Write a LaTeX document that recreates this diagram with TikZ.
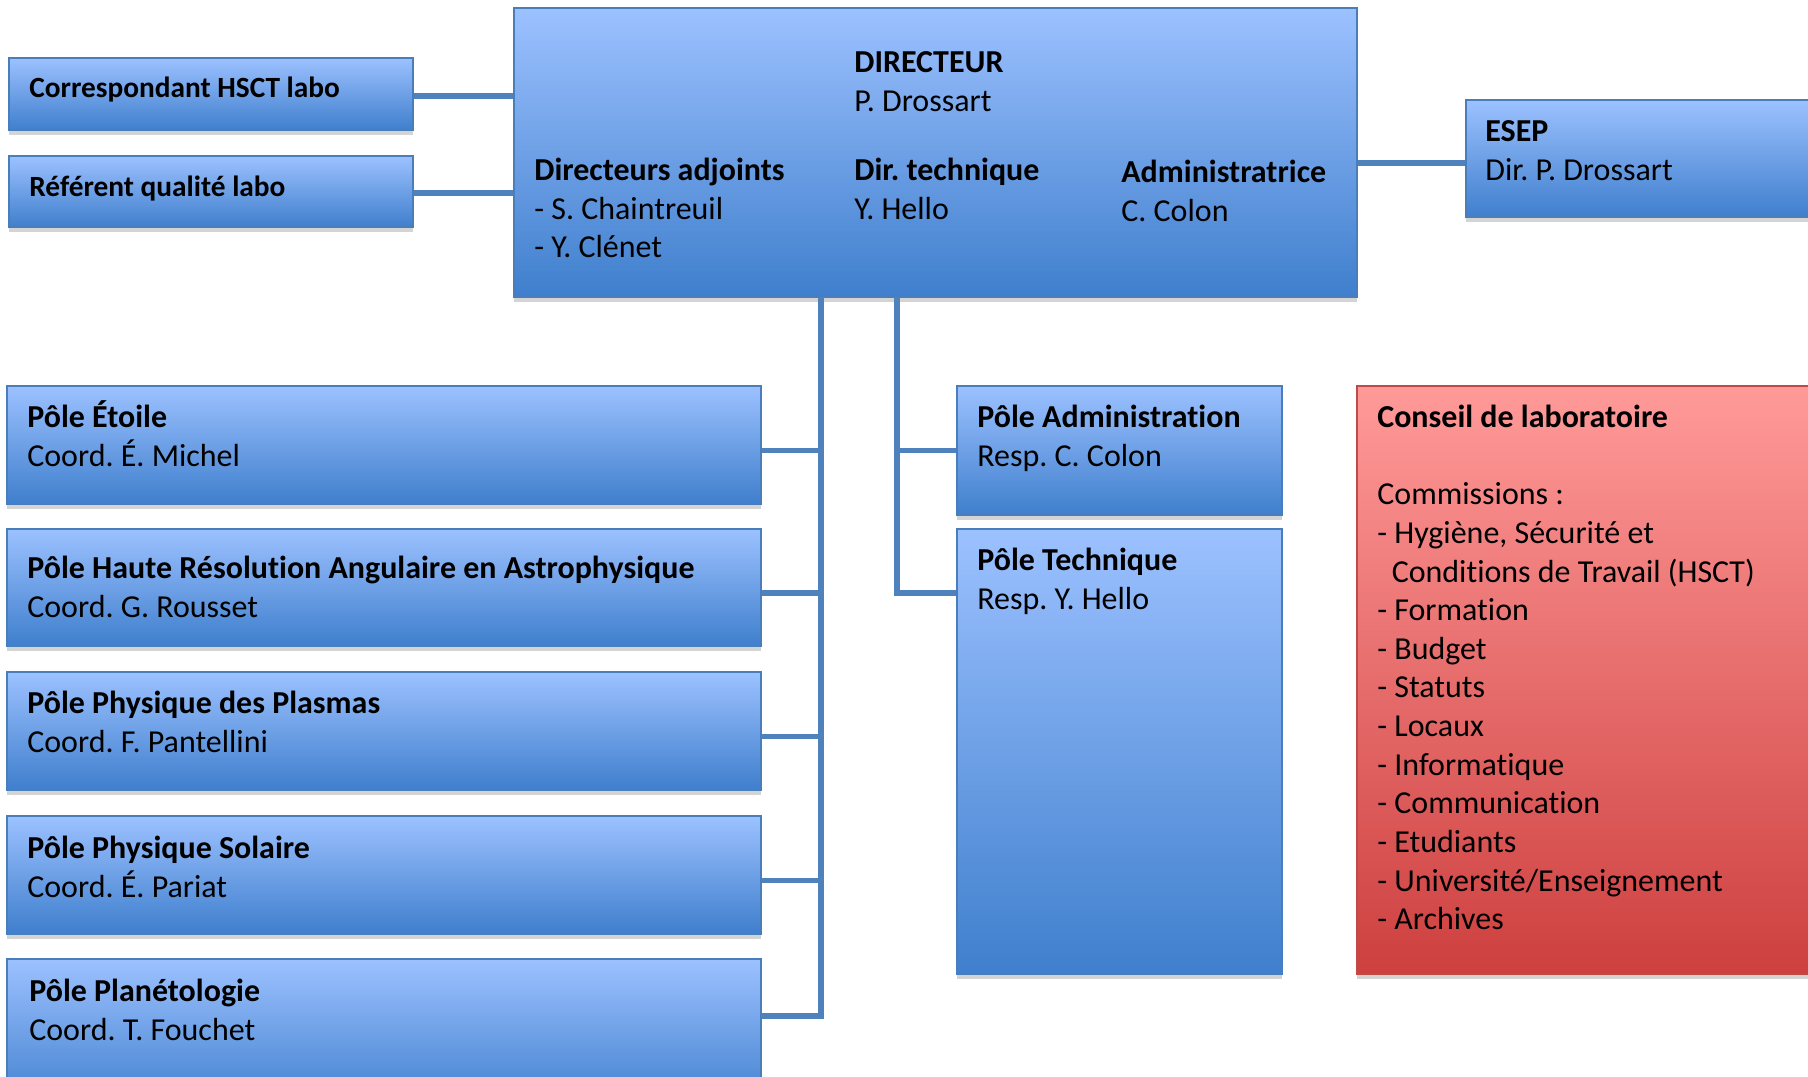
\documentclass[tikz,border=0pt]{standalone}
\usepackage{fontspec}
\setmainfont{Carlito}[Ligatures=NoCommon]
\frenchspacing
\usetikzlibrary{fit, shadows}

\definecolor{hautbleu}{HTML}{9CC1FF}
\definecolor{basbleu}{HTML}{3F7FCD}
\definecolor{bordbleu}{HTML}{4A7EBB}
\definecolor{lienbleu}{HTML}{4F81BD}
\definecolor{hautrouge}{HTML}{FF9A99}
\definecolor{basrouge}{HTML}{CD403F}
\definecolor{bordrouge}{HTML}{BE4B48}

\tikzset{
  boite/.style={draw=bordbleu, line width=1pt, top color=hautbleu, bottom color=basbleu,
    inner sep=0pt, general shadow={fill=black!17, shadow yshift=-2.6pt}},
  conseil/.style={boite, draw=bordrouge, top color=hautrouge, bottom color=basrouge},
  txt/.style={anchor=north west, inner sep=0pt, align=left, font=\fontsize{18.2}{22}\selectfont},
  petit/.style={txt, font=\fontsize{16.7}{22}\selectfont},
  lien/.style={draw=lienbleu, line width=3.2pt},
}

\begin{document}
\begin{tikzpicture}[x=0.02cm, y=-0.02cm]
    \useasboundingbox (0,0) rectangle (1808,1077);

    % direction
    \node[boite, fit={(514,8) (1357,297)}] (dir) {};
    \node[txt] (dir-t) at (854,45) {\strut\textbf{DIRECTEUR}\\P. Drossart};
    \node[txt] (adj-t) at (534,153) {\strut\textbf{Directeurs adjoints}\\- S. Chaintreuil\\- Y. Clénet};
    \node[txt] (dirtech-t) at (854,153) {\strut\textbf{Dir. technique}\\Y. Hello};
    \node[txt] (dadmin-t) at (1121,155) {\strut\textbf{Administratrice}\\C. Colon};

    \node[boite, fit={(9,58) (413,130)}] (corr) {};
    \node[petit] (corr-t) at (29,70) {\strut\textbf{Correspondant HSCT labo}};
    \node[boite, fit={(9,156) (413,227)}] (ref) {};
    \node[petit] (ref-t) at (29,169) {\strut\textbf{Référent qualité labo}};

    \node[boite, fit={(1466,100) (1830,217)}] (esep) {};
    \node[txt] (esep-t) at (1485,114) {\strut\textbf{ESEP}\\Dir. P. Drossart};

    % poles scientifiques
    \node[boite, fit={(7,386) (761,504)}] (etoile) {};
    \node[txt] (etoile-t) at (27,400) {\strut\textbf{Pôle Étoile}\\Coord. É. Michel};
    \node[boite, fit={(7,529) (761,646)}] (hra) {};
    \node[txt] (hra-t) at (27,551) {\strut\textbf{Pôle Haute Résolution Angulaire en Astrophysique}\\Coord. G. Rousset};
    \node[boite, fit={(7,672) (761,790)}] (plasmas) {};
    \node[txt] (plasmas-t) at (27,686) {\strut\textbf{Pôle Physique des Plasmas}\\Coord. F. Pantellini};
    \node[boite, fit={(7,816) (761,934)}] (solaire) {};
    \node[txt] (solaire-t) at (27,831) {\strut\textbf{Pôle Physique Solaire}\\Coord. É. Pariat};
    \node[boite, fit={(7,959) (761,1110)}] (planet) {};
    \node[txt] (planet-t) at (29,974) {\strut\textbf{Pôle Planétologie}\\Coord. T. Fouchet};

    % poles support
    \node[boite, fit={(957,386) (1282,515)}] (admin) {};
    \node[txt] (admin-t) at (977,400) {\strut\textbf{Pôle Administration}\\Resp. C. Colon};
    \node[boite, fit={(957,529) (1282,974)}] (tech) {};
    \node[txt] (tech-t) at (977,543) {\strut\textbf{Pôle Technique}\\Resp. Y. Hello};

    % conseil
    \node[conseil, fit={(1357,386) (1830,974)}] (cl) {};
    \node[txt] (cl-t) at (1377,400) {\strut\textbf{Conseil de laboratoire}\\[22pt]
        Commissions :\\- Hygiène, Sécurité et\\\hspace*{0.45em}Conditions de Travail (HSCT)\\
        - Formation\\- Budget\\- Statuts\\- Locaux\\- Informatique\\- Communication\\
        - Etudiants\\- Université/Enseignement\\- Archives};

    % liens
    \coordinate (trunk) at (821,297);
    \coordinate (trunk2) at (897,297);
    \draw[lien] ([yshift=-0.04cm]corr.east) -- ([yshift=-0.04cm]corr.east -| dir.west);
    \draw[lien] ([yshift=-0.03cm]ref.east) -- ([yshift=-0.03cm]ref.east -| dir.west);
    \draw[lien] ([yshift=-0.09cm]dir.east |- esep.west) -- ([yshift=-0.09cm]esep.west);
    \draw[lien] (trunk) |- ([yshift=-1.16cm]planet.north east);
    \foreach \p in {etoile, hra, plasmas, solaire}
        \draw[lien] ([yshift=-0.11cm]\p.east) -- ([yshift=-0.11cm]\p.east -| trunk);
    \draw[lien] (trunk2) |- ([yshift=-1.3cm]tech.north west);
    \draw[lien] (admin.west) -- (admin.west -| trunk2);
\end{tikzpicture}
\end{document}
